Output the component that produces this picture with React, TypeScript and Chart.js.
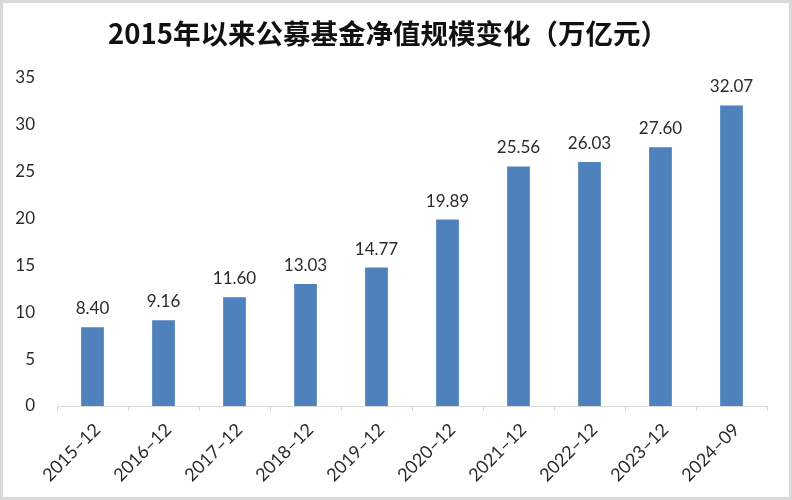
import React, { useEffect, useRef } from "react";
import { Chart, registerables } from "chart.js";

Chart.register(...registerables);

const TITLE = "2015年以来公募基金净值规模变化（万亿元）";
const categories = [
  "2015–12", "2016–12", "2017–12", "2018–12", "2019–12",
  "2020–12", "2021–12", "2022–12", "2023–12", "2024–09",
];
const values = [8.4, 9.16, 11.6, 13.03, 14.77, 19.89, 25.56, 26.03, 27.6, 32.07];
const yMin = 0;
const yMax = 35;
const yStep = 5;

const FONT = "Lato, 'Liberation Sans', sans-serif";
const TEXT_COLOR = "#2b2b2b";

const framePlugin = {
  id: "frame",
  beforeDraw(chart: any) {
    const { ctx, width, height } = chart;
    ctx.save();
    ctx.fillStyle = "#ffffff";
    ctx.fillRect(0, 0, width, height);
    ctx.strokeStyle = "#d9d9d9";
    ctx.lineWidth = 3;
    ctx.strokeRect(1.5, 1.5, width - 3, height - 3);
    ctx.restore();
  },
  afterDraw(chart: any) {
    const { ctx } = chart;
    ctx.save();
    ctx.fillStyle = "#111111";
    ctx.font = "bold 27.5px 'Noto Sans CJK SC', sans-serif";
    ctx.textAlign = "center";
    ctx.textBaseline = "middle";
    ctx.fillText(TITLE, 388, 34);
    ctx.restore();
  },
};

const valueLabelPlugin = {
  id: "valueLabels",
  afterDatasetsDraw(chart: any) {
    const { ctx } = chart;
    const meta = chart.getDatasetMeta(0);
    ctx.save();
    ctx.fillStyle = TEXT_COLOR;
    ctx.font = `17px ${FONT}`;
    ctx.textAlign = "center";
    ctx.textBaseline = "alphabetic";
    meta.data.forEach((bar: any, i: number) => {
      ctx.fillText(values[i].toFixed(2), bar.x, bar.y - 13);
    });
    ctx.restore();
  },
};

export default function App() {
  const ref = useRef<HTMLCanvasElement | null>(null);
  useEffect(() => {
    if (!ref.current) return;
    const chart = new Chart(ref.current, {
      type: "bar",
      data: {
        labels: categories,
        datasets: [
          {
            data: values,
            backgroundColor: "#4F81BD",
            borderWidth: 0,
            barPercentage: 0.32,
            categoryPercentage: 1.0,
          },
        ],
      },
      options: {
        animation: false,
        responsive: false,
        maintainAspectRatio: false,
        devicePixelRatio: 1,
        layout: { padding: { top: 78, right: 25, left: 0, bottom: 0 } },
        plugins: {
          legend: { display: false },
          title: { display: false },
          tooltip: { enabled: false },
        },
        scales: {
          x: {
            offset: true,
            grid: {
              display: true,
              drawOnChartArea: false,
              drawTicks: true,
              tickLength: 5,
              color: "#d9d9d9",
              offset: true,
            },
            border: { display: true, color: "#d9d9d9", width: 1 },
            ticks: {
              color: TEXT_COLOR,
              font: { family: FONT, size: 18 },
              maxRotation: 45,
              minRotation: 45,
              padding: 8,
              labelOffset: 5,
              autoSkip: false,
            },
            afterFit: (s: any) => {
              s.height = 94;
            },
          },
          y: {
            min: yMin,
            max: yMax,
            grid: { display: false, drawTicks: false },
            border: { display: false },
            ticks: {
              stepSize: yStep,
              color: TEXT_COLOR,
              font: { family: FONT, size: 17 },
              padding: 22,
            },
            afterFit: (s: any) => {
              s.width = 57;
            },
          },
        },
      },
      plugins: [framePlugin, valueLabelPlugin],
    });
    return () => chart.destroy();
  }, []);
  return (
    <div style={{ position: "fixed", left: 0, top: 0, width: 792, height: 500 }}>
      <canvas ref={ref} width={792} height={500} style={{ width: 792, height: 500 }} />
    </div>
  );
}
